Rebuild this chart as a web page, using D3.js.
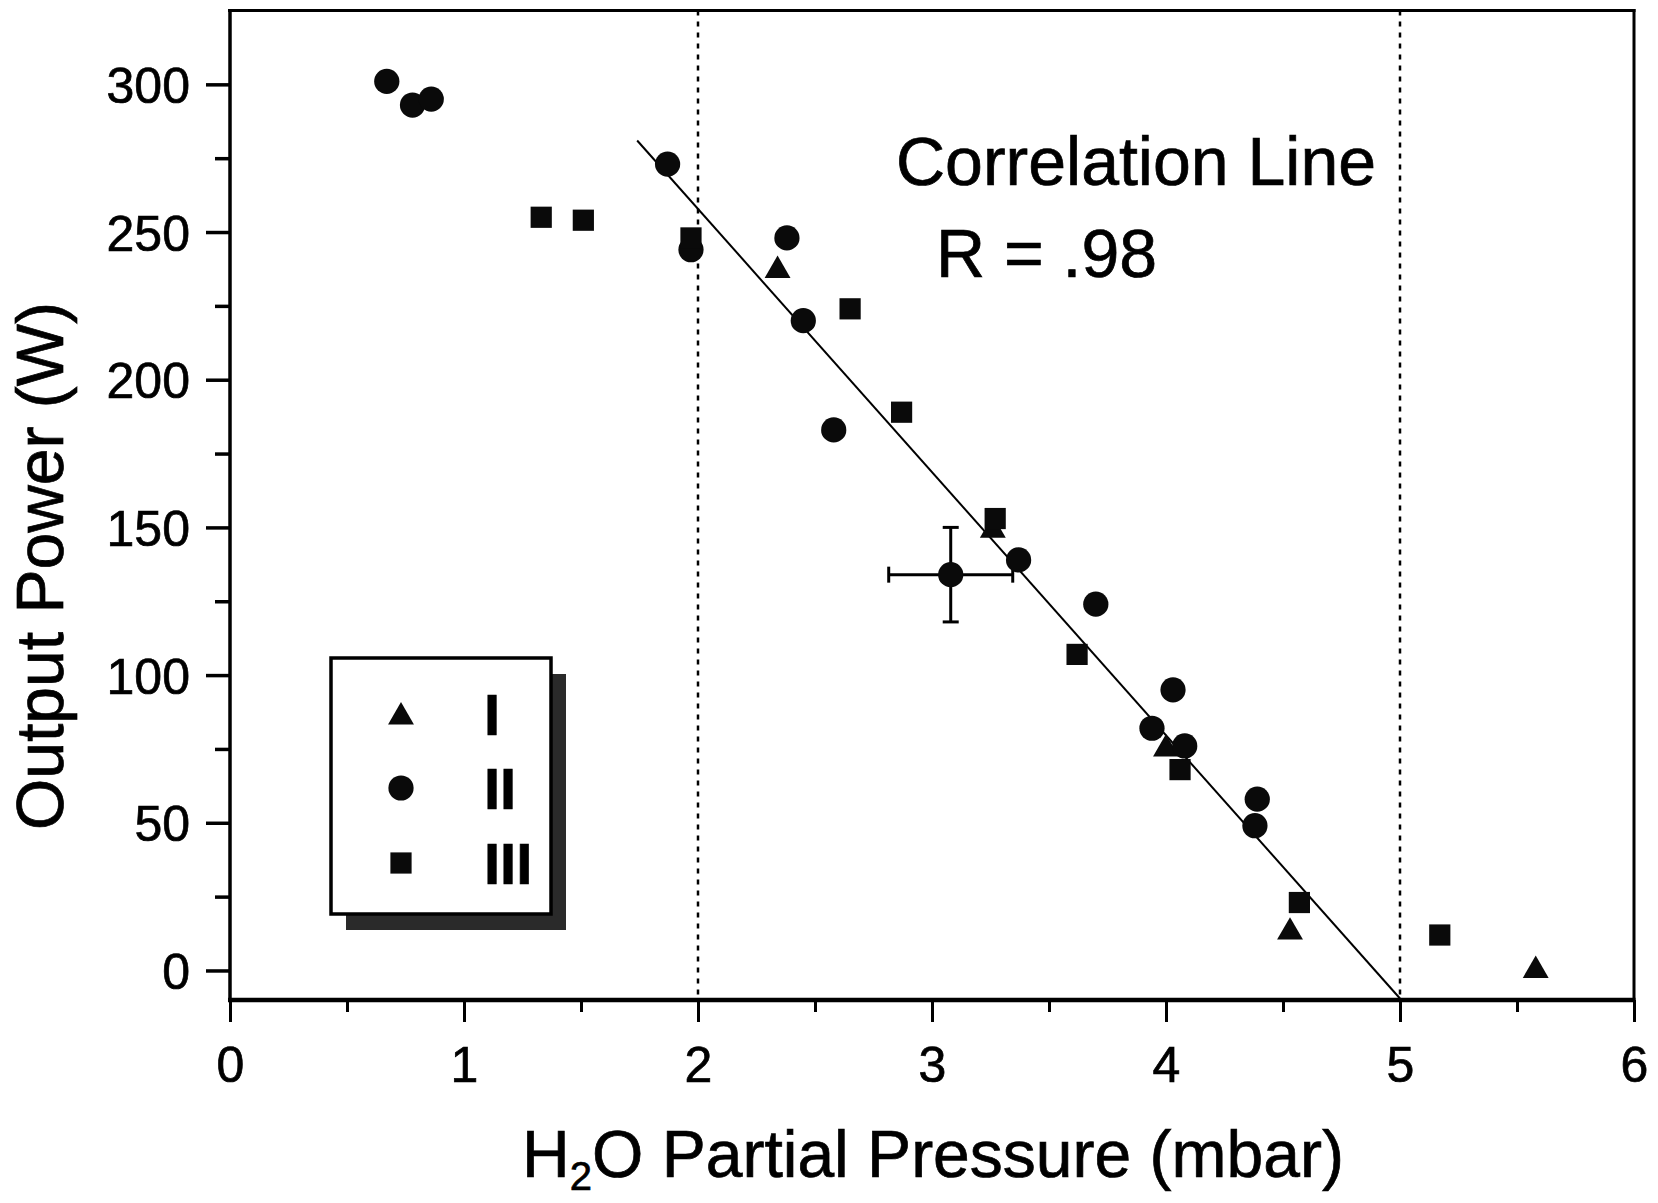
<!DOCTYPE html>
<html>
<head>
<meta charset="utf-8">
<script src="https://cdn.jsdelivr.net/npm/d3@7"></script>
<style>
  html, body { margin: 0; padding: 0; background: #fff; }
  svg { display: block; }
  text { font-family: "Liberation Sans", Arial, Helvetica, sans-serif; fill: #000; stroke: #000; stroke-width: 0.7px; }
</style>
</head>
<body>
<svg id="chart" width="1658" height="1203"></svg>
<script>
// ---- data ----
const seriesNames = ["I", "II", "III"];
const seriesShapes = ["triangle", "circle", "square"];

// Series I (triangles)
const triX = [2.34, 3.26, 4.00, 4.53, 5.58];
const triY = [238, 150, 76, 14, 1];

// Series II (circles)
const cirX = [0.67, 0.78, 0.86, 1.87, 1.97, 2.38, 2.45, 2.58, 3.37, 3.08, 3.70, 4.03, 3.94, 4.08, 4.39, 4.38];
const cirY = [301, 293, 295, 273, 244, 248, 220, 183, 139, 134, 124, 95, 82, 76, 58, 49];

// Series III (squares)
const sqX = [1.33, 1.51, 1.97, 2.65, 2.87, 3.27, 3.62, 4.06, 4.57, 5.17];
const sqY = [255, 254, 248, 224, 189, 153, 107, 68, 23, 12];

// Representative error bar (on circle at 3.08, 134)
const errX = [3.08];
const errY = [134];
const errXHalf = [0.265];
const errYHalf = [16];

// Correlation line end points
const fitX = [1.74, 5.0];
const fitY = [281, -9.5];

// Vertical dotted reference lines
const refLinesX = [2, 5];

// Axis ticks
const xTicks = [0, 1, 2, 3, 4, 5, 6];
const xMinorTicks = [0.5, 1.5, 2.5, 3.5, 4.5, 5.5];
const yTicks = [0, 50, 100, 150, 200, 250, 300];
const yMinorTicks = [25, 75, 125, 175, 225, 275];

const xTitle = ["H", "2", "O Partial Pressure (mbar)"];
const yTitle = "Output Power (W)";
const annotation1 = "Correlation Line";
const annotation2 = "R = .98";

// ---- drawing ----
const svg = d3.select("#chart");
const pLeft = 230, pRight = 1634, pTop = 10.5, pBottom = 1000;

const x = d3.scaleLinear().domain([0, 6]).range([pLeft, pRight]);
const y = d3.scaleLinear().domain([-10, 325]).range([pBottom, pTop]);

const tickFont = 50, titleFont = 66, annFont = 68, legendFont = 58;

// dotted reference lines
svg.selectAll("line.ref").data(refLinesX).enter().append("line")
  .attr("x1", d => x(d)).attr("x2", d => x(d))
  .attr("y1", pTop).attr("y2", pBottom)
  .attr("stroke", "#000").attr("stroke-width", 2.5)
  .attr("stroke-dasharray", "5,6");

// correlation line
svg.append("line")
  .attr("x1", x(fitX[0])).attr("y1", y(fitY[0]))
  .attr("x2", x(fitX[1])).attr("y2", y(fitY[1]))
  .attr("stroke", "#000").attr("stroke-width", 2);

// axes with D3
const yAxis = d3.axisLeft(y).tickValues(yTicks).tickSize(24).tickPadding(16).tickFormat(d3.format("d"));
const gy = svg.append("g").attr("transform", `translate(${pLeft},0)`).call(yAxis);
gy.select(".domain").remove();
gy.selectAll(".tick line").attr("stroke-width", 3.5);
gy.selectAll(".tick text").style("font-size", tickFont + "px").attr("dy", "0.36em");
const yMinor = d3.axisLeft(y).tickValues(yMinorTicks).tickSize(15).tickFormat("");
const gym = svg.append("g").attr("transform", `translate(${pLeft},0)`).call(yMinor);
gym.select(".domain").remove();
gym.selectAll(".tick line").attr("stroke-width", 3.5);

const xAxis = d3.axisBottom(x).tickValues(xTicks).tickSize(22).tickPadding(24).tickFormat(d3.format("d"));
const gx = svg.append("g").attr("transform", `translate(0,${pBottom})`).call(xAxis);
gx.select(".domain").remove();
gx.selectAll(".tick line").attr("stroke-width", 3);
gx.selectAll(".tick text").style("font-size", tickFont + "px").attr("dy", "0.72em");
const xMinor = d3.axisBottom(x).tickValues(xMinorTicks).tickSize(12).tickFormat("");
const gxm = svg.append("g").attr("transform", `translate(0,${pBottom})`).call(xMinor);
gxm.select(".domain").remove();
gxm.selectAll(".tick line").attr("stroke-width", 3);

// frame
svg.append("line").attr("x1", pLeft).attr("x2", pLeft).attr("y1", pTop - 1.5).attr("y2", pBottom + 2)
  .attr("stroke", "#000").attr("stroke-width", 3.5);
svg.append("line").attr("x1", pRight).attr("x2", pRight).attr("y1", pTop - 1.5).attr("y2", pBottom + 2)
  .attr("stroke", "#000").attr("stroke-width", 3);
svg.append("line").attr("x1", pLeft - 2).attr("x2", pRight + 1.5).attr("y1", pTop).attr("y2", pTop)
  .attr("stroke", "#000").attr("stroke-width", 3);
svg.append("line").attr("x1", pLeft - 2).attr("x2", pRight + 1.5).attr("y1", pBottom).attr("y2", pBottom)
  .attr("stroke", "#000").attr("stroke-width", 4.5);

// symbols
const symType = { triangle: d3.symbolTriangle, circle: d3.symbolCircle, square: d3.symbolSquare };
const symSize = { triangle: 290, circle: 500, square: 450 };
function sym(shape) { return d3.symbol().type(symType[shape]).size(symSize[shape])(); }
function triShift(shape) { return shape === "triangle" ? 3 : 0; }

// error bars
const eb = svg.append("g").attr("stroke", "#000").attr("stroke-width", 3);
errX.forEach((ex, i) => {
  const ey = errY[i];
  eb.append("line").attr("x1", x(ex - errXHalf[i])).attr("x2", x(ex + errXHalf[i])).attr("y1", y(ey)).attr("y2", y(ey));
  eb.append("line").attr("x1", x(ex)).attr("x2", x(ex)).attr("y1", y(ey - errYHalf[i])).attr("y2", y(ey + errYHalf[i]));
  [ex - errXHalf[i], ex + errXHalf[i]].forEach(v =>
    eb.append("line").attr("x1", x(v)).attr("x2", x(v)).attr("y1", y(ey) - 8).attr("y2", y(ey) + 8));
  [ey - errYHalf[i], ey + errYHalf[i]].forEach(v =>
    eb.append("line").attr("x1", x(ex) - 8).attr("x2", x(ex) + 8).attr("y1", y(v)).attr("y2", y(v)));
});

function drawSeries(xs, ys, shape) {
  svg.append("g").selectAll("path").data(xs.map((v, i) => [v, ys[i]])).enter().append("path")
    .attr("d", sym(shape))
    .attr("transform", d => `translate(${x(d[0])},${y(d[1]) + triShift(shape)})`)
    .attr("fill", "#0a0a0a");
}
drawSeries(triX, triY, "triangle");
drawSeries(cirX, cirY, "circle");
drawSeries(sqX, sqY, "square");

// annotations
svg.append("text").attr("x", 896).attr("y", 185).style("font-size", annFont + "px").text(annotation1);
svg.append("text").attr("x", 936).attr("y", 277).style("font-size", annFont + "px")
  .attr("xml:space", "preserve").text(annotation2);

// legend
const lgX = 331, lgY = 658, lgW = 220, lgH = 256;
svg.append("rect").attr("x", lgX + 15).attr("y", lgY + 16).attr("width", lgW).attr("height", lgH)
  .attr("fill", "#2a2a2a");
svg.append("rect").attr("x", lgX).attr("y", lgY).attr("width", lgW).attr("height", lgH)
  .attr("fill", "#fff").attr("stroke", "#000").attr("stroke-width", 3.5);
const rowY = [714, 788, 863];
seriesNames.forEach((name, i) => {
  svg.append("path").attr("d", sym(seriesShapes[i]))
    .attr("transform", `translate(${lgX + 70},${rowY[i] + triShift(seriesShapes[i])})`)
    .attr("fill", "#0a0a0a");
  svg.append("text").attr("x", lgX + 153).attr("y", rowY[i] + 21)
    .style("font-size", legendFont + "px").style("font-weight", "bold").text(name);
});

// axis titles
const xt = svg.append("text").attr("x", 933).attr("y", 1177).attr("text-anchor", "middle")
  .style("font-size", titleFont + "px");
xt.append("tspan").text(xTitle[0]);
xt.append("tspan").attr("dy", 13).style("font-size", "40px").text(xTitle[1]);
xt.append("tspan").attr("dy", -13).text(xTitle[2]);

svg.append("text").attr("transform", `translate(63,566) rotate(-90)`).attr("text-anchor", "middle")
  .style("font-size", titleFont + "px").text(yTitle);
</script>
</body>
</html>
